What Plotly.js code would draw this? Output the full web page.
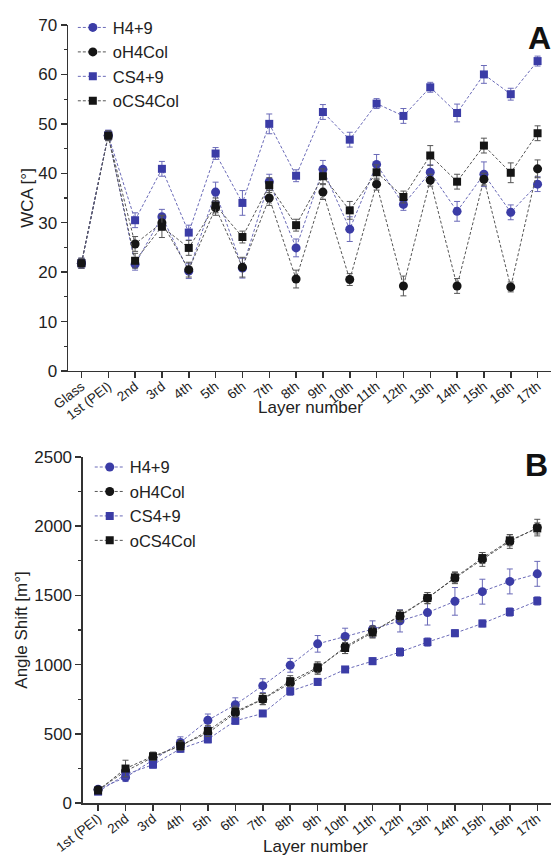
<!DOCTYPE html>
<html>
<head>
<meta charset="utf-8">
<script src="https://cdn.plot.ly/plotly-3.0.1.min.js"></script>
<style>html,body{margin:0;padding:0;background:#fff;}#chart{width:551px;height:857px;}</style>
</head>
<body>
<div id="chart"></div>
<script>
// ---------- Panel A: water contact angle ----------
const layersA = ["Glass","1st (PEI)","2nd","3rd","4th","5th","6th","7th","8th","9th","10th","11th","12th","13th","14th","15th","16th","17th"];
const wcaH49     = [21.8,47.7,21.6,31.2,20.2,36.2,20.8,38.3,24.9,40.8,28.7,41.8,33.7,40.2,32.3,39.8,32.1,37.8];
const wcaH49Err  = [1.0,1.0,1.2,1.5,1.5,2.0,2.0,1.5,1.8,1.8,2.5,2.0,1.2,1.5,2.0,2.5,1.5,1.5];
const wcaOH4     = [21.8,47.6,25.7,30.0,20.5,33.0,21.0,35.0,18.6,36.2,18.5,37.8,17.2,38.6,17.2,38.8,17.0,40.9];
const wcaOH4Err  = [1.0,1.0,1.5,1.5,1.5,1.5,2.0,1.5,1.8,1.5,1.2,1.2,2.0,1.2,1.5,1.2,1.0,1.8];
const wcaCS49    = [21.8,47.7,30.5,40.9,28.0,44.0,34.0,50.0,39.5,52.4,46.8,54.1,51.6,57.4,52.2,60.0,56.0,62.7];
const wcaCS49Err = [1.0,1.0,1.5,1.5,1.5,1.2,2.5,2.0,1.2,1.5,1.5,1.0,1.5,1.0,1.8,1.8,1.2,1.0];
const wcaOCS4    = [21.8,47.6,22.3,29.2,24.9,33.5,27.1,37.6,29.5,39.4,32.5,40.2,35.2,43.6,38.3,45.6,40.1,48.1];
const wcaOCS4Err = [1.0,1.0,1.5,2.2,1.5,1.5,1.2,1.5,1.2,1.5,1.8,1.5,1.2,2.0,1.5,1.5,2.0,1.5];

// ---------- Panel B: angle shift ----------
const layersB = ["1st (PEI)","2nd","3rd","4th","5th","6th","7th","8th","9th","10th","11th","12th","13th","14th","15th","16th","17th"];
const asH49     = [100,185,310,438,598,710,848,995,1150,1203,1256,1316,1376,1457,1527,1601,1656];
const asH49Err  = [20,30,30,40,45,50,50,50,60,60,60,80,90,100,90,90,90];
const asOH4     = [95,230,330,420,505,650,750,865,970,1130,1240,1350,1480,1625,1760,1890,1990];
const asOH4Err  = [20,40,30,30,40,40,40,40,40,50,40,40,40,40,50,50,60];
const asCS49    = [82,205,277,392,460,594,647,808,875,965,1025,1091,1163,1227,1297,1380,1460];
const asCS49Err = [15,25,25,25,25,25,20,30,25,20,25,30,30,25,25,30,30];
const asOCS4    = [90,249,338,411,521,660,752,880,980,1120,1232,1354,1481,1630,1770,1898,1984];
const asOCS4Err = [20,60,30,30,40,40,40,40,40,40,40,40,40,40,40,40,40];

const series = ["H4+9","oH4Col","CS4+9","oCS4Col"];
const blue = "#3b3ca6";
const black = "#151515";
const blueLine = "#6a6ab8";
const blackLine = "#555555";
const styles = [
  {color: blue,  line: blueLine,  symbol: "circle", size: 9},
  {color: black, line: blackLine, symbol: "circle", size: 9},
  {color: blue,  line: blueLine,  symbol: "square", size: 8},
  {color: black, line: blackLine, symbol: "square", size: 8}
];

function mk(x, y, err, i, xa, ya, leg) {
  const s = styles[i];
  return {
    x: x, y: y, type: "scatter", mode: "lines+markers", name: series[i],
    xaxis: xa, yaxis: ya, legend: leg,
    line: {color: s.line, width: 1, dash: "3px,2px"},
    marker: {color: s.color, symbol: s.symbol, size: s.size},
    error_y: {type: "data", array: err, visible: true, color: s.line, thickness: 1, width: 3}
  };
}

const data = [
  mk(layersA, wcaH49, wcaH49Err, 0, "x", "y", "legend"),
  mk(layersA, wcaOH4, wcaOH4Err, 1, "x", "y", "legend"),
  mk(layersA, wcaCS49, wcaCS49Err, 2, "x", "y", "legend"),
  mk(layersA, wcaOCS4, wcaOCS4Err, 3, "x", "y", "legend"),
  mk(layersB, asH49, asH49Err, 0, "x2", "y2", "legend2"),
  mk(layersB, asOH4, asOH4Err, 1, "x2", "y2", "legend2"),
  mk(layersB, asCS49, asCS49Err, 2, "x2", "y2", "legend2"),
  mk(layersB, asOCS4, asOCS4Err, 3, "x2", "y2", "legend2")
];

const fontFam = "Liberation Sans, Arial, sans-serif";
const axCommon = {
  showline: true, linecolor: "#333", linewidth: 1.5, mirror: false,
  ticks: "outside", ticklen: 6, tickwidth: 1.5, tickcolor: "#333",
  showgrid: false, zeroline: false,
  tickfont: {family: fontFam, size: 15, color: "#222"}
};

const layout = {
  width: 551, height: 857,
  margin: {l: 68, r: 0, t: 25, b: 54},
  paper_bgcolor: "#fff", plot_bgcolor: "#fff",
  font: {family: fontFam, color: "#222"},
  showlegend: true,
  xaxis: Object.assign({}, axCommon, {
    type: "category", categoryorder: "array", categoryarray: layersA,
    range: [-0.5, 17.5], domain: [0, 1], anchor: "y",
    tickangle: -38, ticklabelstandoff: -5, tickfont: {family: fontFam, size: 13.5, color: "#222"}
  }),
  yaxis: Object.assign({}, axCommon, {
    range: [0, 70], domain: [0.5553, 1], anchor: "x",
    dtick: 10, tickfont: {family: fontFam, size: 17, color: "#222"},
    minor: {ticks: "outside", ticklen: 3, tickwidth: 1.2, tickcolor: "#333", dtick: 5},
    title: {text: "WCA [°]", font: {family: fontFam, size: 17}, standoff: 0}
  }),
  xaxis2: Object.assign({}, axCommon, {
    type: "category", categoryorder: "array", categoryarray: layersB,
    range: [-0.55, 16.5], domain: [0.031, 1], anchor: "y2",
    tickangle: -38, ticklabelstandoff: -5, tickfont: {family: fontFam, size: 13.5, color: "#222"}
  }),
  yaxis2: Object.assign({}, axCommon, {
    range: [0, 2500], domain: [0, 0.4447], anchor: "x2",
    dtick: 500, tickfont: {family: fontFam, size: 17, color: "#222"},
    minor: {ticks: "outside", ticklen: 3, tickwidth: 1.2, tickcolor: "#333", dtick: 250},
    title: {text: "Angle Shift [m°]", font: {family: fontFam, size: 17}, standoff: 2}
  }),
  legend: {
    x: 0.01, y: 1.019, xanchor: "left", yanchor: "top",
    bgcolor: "rgba(0,0,0,0)", font: {family: fontFam, size: 16.5, color: "#222"},
    tracegroupgap: 0
  },
  legend2: {
    x: 0.045, y: 0.454, xanchor: "left", yanchor: "top",
    bgcolor: "rgba(0,0,0,0)", font: {family: fontFam, size: 16.5, color: "#222"},
    tracegroupgap: 0
  },
  annotations: [
    {text: "<b>A</b>", xref: "paper", yref: "paper", x: 0.948, y: 0.983, xanchor: "left", yanchor: "middle",
     showarrow: false, font: {family: fontFam, size: 32, color: "#111"}},
    {text: "<b>B</b>", xref: "paper", yref: "paper", x: 0.942, y: 0.434, xanchor: "left", yanchor: "middle",
     showarrow: false, font: {family: fontFam, size: 32, color: "#111"}},
    {text: "Layer number", xref: "paper", yref: "paper", x: (310 - 68) / 483, y: (803 - 407) / 778,
     xanchor: "center", yanchor: "middle", showarrow: false, font: {family: fontFam, size: 17, color: "#222"}},
    {text: "Layer number", xref: "paper", yref: "paper", x: (315 - 68) / 483, y: (803 - 846) / 778,
     xanchor: "center", yanchor: "middle", showarrow: false, font: {family: fontFam, size: 17, color: "#222"}}
  ]
};

Plotly.newPlot("chart", data, layout, {displayModeBar: false, staticPlot: true});
</script>
</body>
</html>
